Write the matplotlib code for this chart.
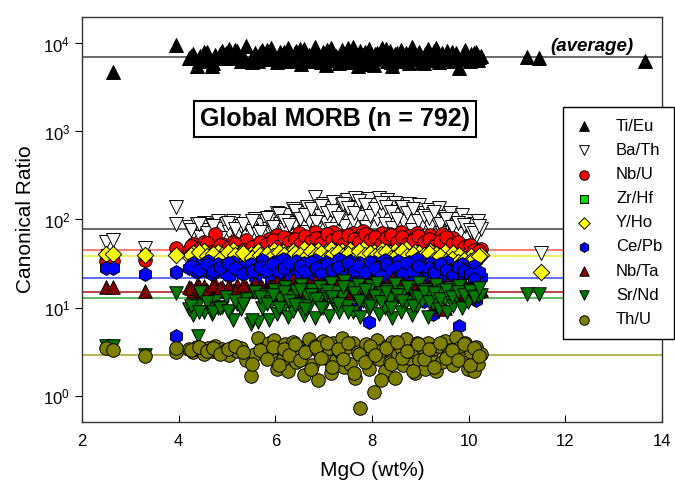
import matplotlib
matplotlib.use("Agg")
import matplotlib.pyplot as plt
from matplotlib.ticker import NullLocator

plt.rcParams['font.family'] = ['Liberation Sans', 'DejaVu Sans']
plt.rcParams['mathtext.fontset'] = 'custom'
plt.rcParams['mathtext.rm'] = 'Liberation Sans'
plt.rcParams['mathtext.default'] = 'regular'

# MgO (wt%) of the main sample cloud, shared by all ratios (two batches)
mgo = [4.22, 4.3, 4.38, 4.45, 4.52, 4.6, 4.68, 4.75, 4.82, 4.9,
       4.98, 5.05, 5.12, 5.2, 5.28, 5.4, 5.5, 5.58, 5.65, 5.72,
       5.8, 5.86, 5.92, 5.98, 6.04, 6.1, 6.15, 6.2, 6.26, 6.32,
       6.37, 6.42, 6.48, 6.54, 6.6, 6.65, 6.7, 6.76, 6.82, 6.88,
       6.93, 6.98, 7.04, 7.1, 7.15, 7.2, 7.26, 7.32, 7.37, 7.42,
       7.48, 7.54, 7.6, 7.65, 7.7, 7.76, 7.82, 7.88, 7.93, 7.98,
       8.04, 8.1, 8.15, 8.2, 8.26, 8.32, 8.37, 8.42, 8.48, 8.54,
       8.6, 8.65, 8.7, 8.76, 8.82, 8.88, 8.93, 8.98, 9.04, 9.1,
       9.15, 9.2, 9.26, 9.32, 9.38, 9.44, 9.5, 9.56, 9.62, 9.68,
       9.74, 9.8, 9.86, 9.92, 9.98, 10.04, 10.1, 10.15, 10.2, 10.25]
mgo_b = [4.26, 4.42, 4.58, 4.72, 4.86, 5.02, 5.16, 5.34, 5.52, 5.68,
         5.83, 5.95, 6.07, 6.18, 6.29, 6.4, 6.51, 6.62, 6.73, 6.85,
         6.95, 7.07, 7.18, 7.29, 7.4, 7.51, 7.62, 7.73, 7.85, 7.95,
         8.07, 8.18, 8.29, 8.4, 8.51, 8.62, 8.73, 8.85, 8.95, 9.07,
         9.18, 9.29, 9.4, 9.53, 9.65, 9.77, 9.9, 10.02, 10.12, 10.22]

ti_eu = [6800, 7600, 5600, 7200, 8100, 6500, 5500, 7400, 6900, 8300,
         7700, 8600, 7100, 8200, 6400, 9300, 6700, 7900, 6300, 8400,
         7300, 6600, 8800, 7000, 6200, 8100, 7500, 6700, 9000, 7200,
         6400, 8300, 7600, 5800, 8700, 6900, 7400, 6300, 9200, 7100,
         6600, 8000, 5700, 7800, 8900, 6500, 7300, 6000, 8400, 7000,
         7700, 6200, 9100, 6800, 5600, 8200, 7400, 6100, 8600, 7000,
         5700, 7900, 6600, 8800, 7200, 6300, 8300, 5600, 7500, 6900,
         8500, 6400, 7800, 6000, 9200, 7100, 6700, 8100, 6200, 7600,
         8700, 6500, 7300, 8900, 6100, 7700, 6800, 8300, 7000, 6400,
         7900, 5300, 6900, 8400, 6600, 7500, 7100, 8000, 6500, 7300]
ti_eu_b = [7200, 6300, 8000, 6000, 7600, 6900, 8400, 7300, 6100, 7800,
           8500, 6600, 7300, 8000, 6300, 7700, 8600, 6700, 7200, 7900,
           6200, 8400, 7000, 6500, 7800, 8900, 6400, 7300, 8000, 5800,
           7500, 6800, 8700, 6200, 7900, 7100, 6500, 8300, 7400, 6000,
           7600, 8200, 6700, 7300, 8000, 6900, 7500, 6300, 7800, 7000]

ba_th = [82, 70, 88, 64, 92, 75, 86, 68, 95, 78,
         88, 72, 96, 66, 84, 90, 74, 102, 68, 86,
         95, 78, 108, 70, 120, 88, 100, 76, 112, 92,
         130, 84, 105, 118, 72, 140, 96, 125, 178, 88,
         110, 150, 92, 135, 78, 160, 115, 100, 145, 85,
         168, 122, 95, 175, 138, 108, 158, 82, 172, 128,
         148, 100, 176, 118, 90, 165, 135, 80, 155, 112,
         140, 96, 125, 150, 76, 132, 105, 145, 88, 120,
         128, 82, 115, 98, 135, 70, 108, 92, 118, 76,
         100, 68, 112, 84, 95, 72, 88, 65, 95, 78]
ba_th_b = [76, 90, 70, 84, 62, 92, 78, 88, 95, 72,
           104, 82, 115, 95, 86, 125, 100, 112, 132, 94,
           142, 118, 126, 105, 150, 136, 120, 162, 145, 110,
           130, 155, 140, 122, 100, 138, 118, 130, 96, 110,
           104, 122, 88, 100, 82, 92, 86, 76, 70, 84]

nb_u = [45, 52, 42, 48, 55, 44, 50, 68, 46, 53,
        49, 43, 56, 47, 51, 58, 45, 50, 42, 54,
        48, 60, 45, 52, 66, 47, 55, 43, 62, 50,
        57, 46, 70, 53, 44, 64, 49, 58, 72, 51,
        61, 45, 67, 54, 48, 73, 56, 43, 65, 52,
        59, 47, 70, 55, 62, 44, 74, 51, 66, 48,
        63, 53, 46, 71, 57, 49, 68, 44, 60, 54,
        72, 48, 58, 65, 43, 56, 70, 50, 62, 46,
        55, 66, 47, 59, 52, 68, 44, 57, 49, 61,
        45, 53, 42, 50, 47, 44, 48, 40, 43, 46]
nb_u_b = [50, 46, 54, 44, 51, 48, 53, 45, 49, 56,
          52, 58, 50, 63, 55, 60, 52, 65, 57, 62,
          54, 68, 58, 63, 52, 66, 60, 55, 69, 58,
          64, 53, 61, 67, 56, 63, 52, 59, 65, 55,
          60, 50, 57, 63, 52, 55, 49, 51, 45, 44]

y_ho = [38, 42, 35, 40, 44, 37, 41, 36, 43, 39,
        40, 36, 45, 38, 42, 34, 41, 37, 44, 39,
        36, 42, 39, 45, 35, 40, 43, 37, 41, 34,
        44, 38, 41, 36, 46, 39, 33, 42, 37, 45,
        40, 35, 43, 38, 46, 36, 41, 33, 44, 39,
        37, 45, 40, 34, 42, 38, 46, 36, 41, 35,
        43, 39, 36, 45, 40, 33, 42, 38, 44, 35,
        41, 37, 46, 34, 39, 43, 36, 42, 31, 40,
        38, 44, 35, 41, 32, 39, 43, 30, 37, 42,
        34, 40, 31, 36, 33, 38, 32, 35, 37, 40]
y_ho_b = [40, 43, 38, 41, 36, 43, 39, 42, 37, 40,
          41, 38, 43, 39, 36, 42, 40, 37, 44, 39,
          42, 37, 40, 43, 38, 41, 36, 44, 39, 42,
          38, 41, 43, 37, 40, 44, 38, 41, 36, 39,
          42, 35, 38, 34, 36, 33, 35, 34, 36, 38]

ce_pb = [28, 32, 25, 30, 27, 34, 24, 29, 31, 26,
         30, 23, 33, 27, 29, 26, 31, 22, 28, 35,
         25, 30, 20, 33, 27, 24, 36, 29, 21, 31,
         26, 34, 19, 29, 32, 23, 28, 14, 35, 25,
         30, 22, 33, 27, 18, 31, 25, 36, 24, 29,
         21, 34, 28, 9.5, 26, 32, 23, 30, 6.9, 27,
         33, 24, 29, 20, 35, 26, 31, 22, 28, 34,
         25, 30, 19, 33, 27, 23, 36, 29, 21, 31,
         26, 32, 8.5, 28, 24, 30, 22, 33, 27, 20,
         29, 23, 31, 25, 28, 26, 30, 18, 24, 22]
ce_pb_b = [30, 27, 31, 26, 29, 32, 28, 24, 26, 29,
           27, 31, 25, 28, 32, 23, 30, 26, 33, 28,
           24, 31, 27, 29, 22, 32, 26, 30, 25, 33,
           28, 23, 31, 27, 29, 24, 32, 26, 30, 12,
           28, 25, 31, 27, 23, 29, 26, 24, 20, 25]

nb_ta = [17, 15.5, 18, 16, 17.5, 15, 16.5, 18.5, 16, 17,
         15.5, 17.5, 16, 18, 15, 17, 16.5, 19, 15.5, 17,
         16, 18, 14.5, 17, 19.5, 15.5, 16.5, 18, 14, 17.5,
         21, 15, 17, 19, 14.5, 16, 18.5, 15.5, 20, 16.5,
         14, 17.5, 19, 15, 18, 16, 13.5, 20, 15.5, 17,
         18.5, 14.5, 16.5, 19.5, 15, 17.5, 13, 18, 16, 20.5,
         15, 17, 19, 14, 16.5, 18, 15.5, 21, 17, 14.5,
         16, 19, 13.5, 17.5, 15, 18.5, 16, 14, 19.5, 17,
         15.5, 18, 16.5, 11, 14.5, 17, 10, 19, 15, 16.5,
         17.5, 14, 16, 18, 15, 16.5, 14.5, 17, 15.5, 16]
nb_ta_b = [16.5, 17.5, 16, 18, 16.5, 17, 15.5, 18, 16, 17,
           15, 18, 16.5, 19, 15.5, 17.5, 16, 18.5, 15, 17,
           19, 16, 17.5, 14.5, 18, 16, 19.5, 15.5, 17, 18,
           16.5, 14.5, 18, 17, 15.5, 19, 16, 17.5, 15, 18,
           16.5, 14, 17, 15.5, 18, 16, 17, 16.5, 15.5, 17]

sr_nd = [9.5, 8.2, 10.5, 15, 9, 11, 8.5, 12, 9.8, 10.2,
         13, 8.8, 7.3, 11, 9.5, 12.5, 6.5, 15, 6.8, 10,
         14, 7.2, 11.5, 16, 8.5, 12.5, 10, 17, 7.8, 13,
         9.2, 15.5, 11, 18, 8.2, 13.5, 10.5, 16, 7.5, 12,
         17, 9.8, 14, 8, 19, 11.5, 15, 9, 13, 20,
         10.5, 16.5, 8.8, 13.5, 18, 7.8, 12, 15.5, 9.5, 17.5,
         11, 19, 8.5, 14.5, 10, 16, 12.5, 7.5, 18.5, 13,
         9, 15, 11.5, 17, 8.2, 13.5, 10.5, 19, 12, 16,
         7.8, 14, 11, 18, 9.5, 15.5, 12.5, 8.8, 16.5, 10.5,
         13, 17.5, 9.8, 14.5, 11.5, 16, 12.5, 15, 13.5, 14]
sr_nd_b = [10.5, 9, 11.5, 8.8, 10, 9.2, 12, 11, 7.2, 13,
           11, 14, 9.8, 15, 12, 10.8, 16, 9.5, 14, 12.5,
           10, 15.5, 13, 11, 17, 9, 14.5, 12, 16, 10.5,
           13.5, 11.5, 15, 9.8, 14, 12, 17, 10.5, 13, 15,
           11.5, 14.5, 12.5, 16, 13, 15, 14, 15.5, 13, 16.5]

th_u = [3.4, 3.1, 3.6, 3.3, 3.0, 3.5, 3.2, 3.7, 3.1, 3.4,
        3.3, 2.9, 3.6, 3.2, 3.5, 2.5, 1.65, 3.0, 4.5, 3.4,
        2.8, 3.9, 3.1, 4.3, 2.0, 3.5, 2.6, 3.8, 1.9, 3.2,
        4.1, 2.4, 3.6, 2.9, 1.7, 3.3, 4.4, 2.2, 3.7, 1.5,
        3.0, 4.2, 2.7, 3.5, 1.8, 3.9, 2.5, 3.2, 4.5, 2.1,
        3.6, 2.3, 4.0, 1.6, 3.1, 0.72, 2.8, 3.8, 2.0, 3.4,
        1.1, 4.3, 2.6, 3.3, 1.9, 3.7, 2.4, 4.1, 1.6, 3.0,
        3.5, 2.2, 4.4, 2.7, 3.2, 1.8, 3.9, 2.5, 3.6, 2.0,
        4.0, 2.9, 3.4, 1.9, 3.7, 2.4, 4.2, 2.8, 3.3, 2.2,
        4.6, 3.5, 2.6, 4.0, 2.0, 3.1, 1.9, 3.6, 2.3, 3.0]
th_u_b = [3.3, 3.6, 3.2, 3.5, 3.0, 3.4, 3.7, 3.1, 2.3, 3.3,
          2.6, 3.6, 2.2, 3.4, 2.9, 3.8, 2.5, 3.1, 2.0, 3.6,
          2.7, 3.9, 2.1, 3.4, 2.6, 4.0, 1.8, 3.0, 2.4, 3.7,
          2.9, 1.5, 3.5, 2.3, 4.1, 2.7, 3.2, 1.9, 3.8, 2.6,
          3.4, 2.1, 3.9, 2.7, 3.3, 2.5, 3.8, 2.2, 3.5, 2.8]

# samples outside the main cloud (low / high MgO)
ti_eu_x = [2.65, 3.95, 11.2, 11.45, 13.65]
ti_eu_y = [4700, 9700, 7100, 6900, 6400]
ba_th_x = [2.5, 2.65, 3.3, 3.95, 3.95, 11.5]
ba_th_y = [56, 59, 47, 140, 90, 42]
nb_u_x = [2.5, 2.65, 3.3, 3.95]
nb_u_y = [34, 34, 35, 47]
zr_hf_x = [2.5, 3.3, 4.6, 5.2, 6.1, 6.7, 7.32, 7.98, 8.54, 9.1, 9.2]
zr_hf_y = [41, 39, 37, 38, 40, 33, 36, 35, 35, 40, 28]
y_ho_x = [2.5, 2.65, 3.3, 3.95, 11.5]
y_ho_y = [41, 41, 39, 39, 25]
ce_pb_x = [2.5, 2.65, 3.3, 3.95, 3.95, 9.8, 10.1, 10.15]
ce_pb_y = [28, 28, 24, 25, 4.8, 6.1, 21, 12.3]
nb_ta_x = [2.5, 2.65, 3.3, 9.42]
nb_ta_y = [17, 17, 15.5, 9.5]
sr_nd_x = [2.5, 2.65, 3.3, 3.95, 4.4, 11.2, 11.45]
sr_nd_y = [3.7, 3.7, 2.9, 14.8, 4.7, 14.4, 14.4]
th_u_x = [2.5, 2.65, 3.3, 3.95, 3.95]
th_u_y = [3.5, 3.3, 2.8, 3.1, 3.5]

# average of each ratio (horizontal lines)
averages = {'Ti/Eu': 7100, 'Ba/Th': 77, 'Nb/U': 44.5, 'Y/Ho': 38,
            'Ce/Pb': 21.4, 'Nb/Ta': 15.2, 'Sr/Nd': 12.7, 'Th/U': 2.85}
avg_colors = {'Ti/Eu': '#404040', 'Ba/Th': '#404040', 'Nb/U': '#ff5555',
              'Y/Ho': '#eeee33', 'Ce/Pb': '#3344ff', 'Nb/Ta': '#aa1111',
              'Sr/Nd': '#33aa33', 'Th/U': '#a0a020'}

fig = plt.figure(figsize=(6.75, 4.84), dpi=100)
ax = fig.add_axes([82 / 675, 62 / 484, 580 / 675, 405 / 484])
ax.set_yscale('log')
ax.set_xlim(2, 14)
ax.set_ylim(0.5, 2e4)

for k, v in averages.items():
    ax.axhline(v, color=avg_colors[k], lw=1.1, zorder=1)

ew = 0.7
both = mgo + mgo_b
series = [
    ('Ti/Eu', both + ti_eu_x, ti_eu + ti_eu_b + ti_eu_y, '^', 'black', 100),
    ('Ba/Th', both + ba_th_x, ba_th + ba_th_b + ba_th_y, 'v', 'white', 100),
    ('Nb/U', both + nb_u_x, nb_u + nb_u_b + nb_u_y, 'o', '#ff0000', 95),
    ('Zr/Hf', zr_hf_x, zr_hf_y, 's', '#00dd00', 55),
    ('Y/Ho', both + y_ho_x, y_ho + y_ho_b + y_ho_y, 'D', '#ffff00', 70),
    ('Ce/Pb', both + ce_pb_x, ce_pb + ce_pb_b + ce_pb_y, 'h', '#0000ff', 100),
    ('Nb/Ta', both + nb_ta_x, nb_ta + nb_ta_b + nb_ta_y, '^', '#800000', 95),
    ('Sr/Nd', both + sr_nd_x, sr_nd + sr_nd_b + sr_nd_y, 'v', '#007a00', 95),
    ('Th/U', both + th_u_x, th_u + th_u_b + th_u_y, 'o', '#808000', 95),
]
handles = []
for i, (lab, xs, ys, mk, col, s) in enumerate(series):
    h = ax.scatter(xs, ys, marker=mk, s=s, c=col, edgecolors='black',
                   linewidths=ew, label=lab, zorder=3 + i)
    handles.append(h)

ax.set_xticks([2, 4, 6, 8, 10, 12, 14])
ax.yaxis.set_minor_locator(NullLocator())
ax.tick_params(axis='x', direction='in', length=5, labelsize=12, pad=9)
ax.tick_params(axis='y', direction='out', length=5, labelsize=12)
for sp in ax.spines.values():
    sp.set_color('#333333')
    sp.set_linewidth(1.0)

ax.set_xlabel('MgO (wt%)', fontsize=15, labelpad=8)
ax.set_ylabel('Canonical Ratio', fontsize=15, labelpad=6)

ax.text(0.436, 0.748, 'Global MORB (n = 792)', transform=ax.transAxes,
        ha='center', va='center', fontsize=18, fontweight='bold',
        bbox=dict(boxstyle='square,pad=0.25', fc='white', ec='black', lw=1.5),
        zorder=20)
ax.text(0.879, 0.926, '(average)', transform=ax.transAxes, ha='center',
        va='center', fontsize=13.5, fontweight='bold', style='italic', zorder=20)

leg = fig.legend(handles=handles, loc='upper right',
                 bbox_to_anchor=(674 / 675, (484 - 107) / 484),
                 borderaxespad=0, fontsize=12, markerscale=0.7,
                 frameon=True, fancybox=False, edgecolor='black',
                 framealpha=1, labelspacing=0.55, handletextpad=1.3,
                 borderpad=0.7, handlelength=1.2)
leg.get_frame().set_linewidth(1.0)
leg.set_zorder(30)

plt.savefig('out.png', dpi=100)
